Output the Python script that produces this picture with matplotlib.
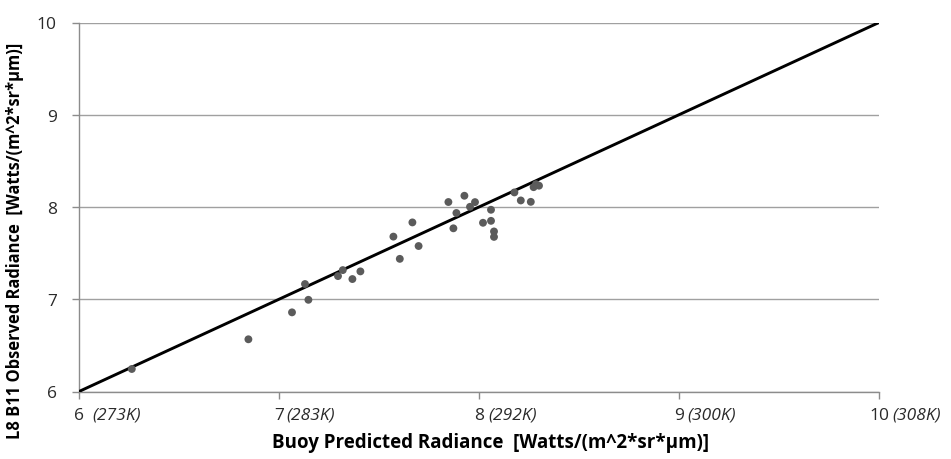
import numpy as np
import matplotlib.pyplot as plt

plt.rcParams['font.family'] = ['Open Sans', 'DejaVu Sans']

# buoy predicted vs observed radiance
buoy = [6.264, 6.847, 7.065, 7.130, 7.147, 7.295, 7.319, 7.367, 7.407, 7.572,
        7.604, 7.667, 7.698, 7.847, 7.872, 7.887, 7.927, 7.955, 7.980, 8.060,
        8.020, 8.060, 8.075, 8.075, 8.177, 8.209, 8.259, 8.273, 8.300, 8.285]
observed = [6.244, 6.566, 6.858, 7.165, 6.994, 7.251, 7.316, 7.219, 7.302, 7.679,
            7.438, 7.833, 7.577, 8.054, 7.769, 7.935, 8.122, 8.002, 8.053, 7.970,
            7.829, 7.850, 7.735, 7.676, 8.158, 8.071, 8.056, 8.215, 8.231, 8.247]

ticks = [6, 7, 8, 9, 10]
kelvin = ['(273K)', '(283K)', '(292K)', '(300K)', '(308K)']
# pixel offset of the kelvin text from the tick
k_off = [13, 7.5, 9.5, 8, 13]

fig = plt.figure(figsize=(9.51, 4.6), dpi=100)
ax = fig.add_axes([79/951, 1 - 392.5/460, 800/951, 369/460])

ax.plot([6, 10], [6, 10], color='black', lw=2.1, zorder=3)
ax.scatter(buoy, observed, s=32, color='#5b5b5b', edgecolors='none', zorder=4)

ax.set_xlim(6, 10)
ax.set_ylim(6, 10)
ax.set_xticks(ticks)
ax.set_yticks(ticks)
ax.set_xticklabels([str(t) for t in ticks])
ax.grid(axis='y', color='#a0a0a0', lw=1.0)
ax.set_axisbelow(True)

for s in ['top', 'right']:
    ax.spines[s].set_visible(False)
for s in ['left', 'bottom']:
    ax.spines[s].set_color('#8c8c8c')
    ax.spines[s].set_linewidth(1.0)
ax.tick_params(axis='both', colors='#8c8c8c', length=5, width=1.0,
               labelsize=12.5, labelcolor='#2a2a2a')
ax.tick_params(axis='x', pad=6)
ax.tick_params(axis='y', pad=11)

for t, k, off in zip(ticks, kelvin, k_off):
    ax.annotate(k, xy=(t, 0), xycoords=('data', 'axes fraction'),
                xytext=(off * 0.72, -5 - 6), textcoords='offset points',
                ha='left', va='top', fontsize=12.5, style='italic',
                color='#2a2a2a', annotation_clip=False)

fig.text(491/951, 1 - 443/460, 'Buoy Predicted Radiance  [Watts/(m^2*sr*\u00b5m)]',
         ha='center', va='center', fontsize=13.5, fontweight='bold')
fig.text(15/951, 1 - 241/460, 'L8 B11 Observed Radiance  [Watts/(m^2*sr*\u00b5m)]',
         ha='center', va='center', rotation=90, fontsize=11.9, fontweight='bold')

fig.savefig('out.png', dpi=100)
